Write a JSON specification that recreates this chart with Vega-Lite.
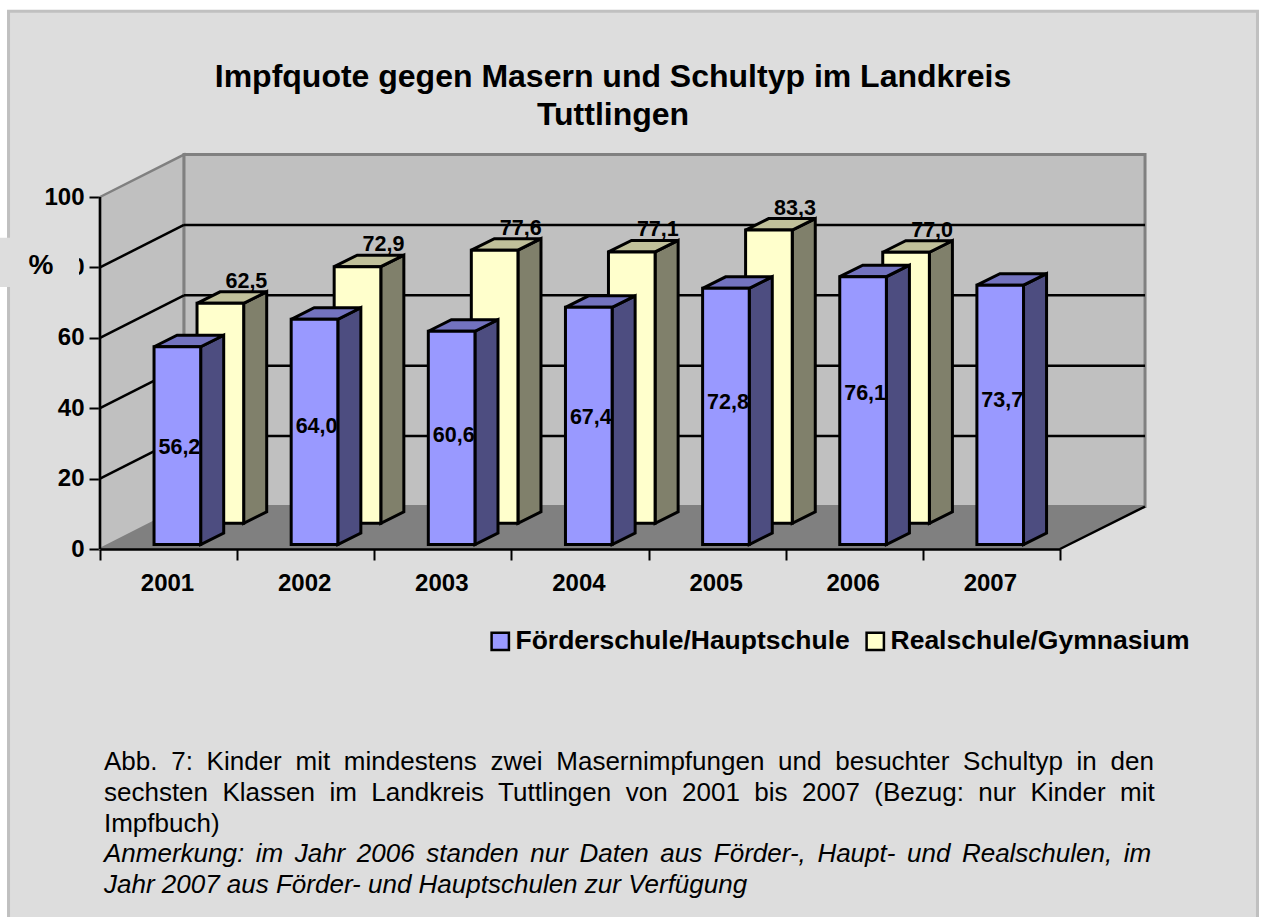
{
"$schema":"https://vega.github.io/schema/vega-lite/v6.json",
"autosize":"none","width":960,"height":352,
"padding":{"left":100,"top":197,"right":203,"bottom":368},
"background":"#dddddd",
"config":{"view":{"stroke":null},"font":"Liberation Sans"},
"title":{"text":["Impfquote gegen Masern und Schultyp im Landkreis","Tuttlingen"],"font":"Liberation Sans","fontSize":32,"fontWeight":"bold","color":"#000","anchor":"middle","dx":33,"offset":-140,"lineHeight":38},
"data":{"name":"bars","values":[
{"year":2001,"series":"Förderschule/Hauptschule","value":56.2},
{"year":2002,"series":"Förderschule/Hauptschule","value":64.0},
{"year":2003,"series":"Förderschule/Hauptschule","value":60.6},
{"year":2004,"series":"Förderschule/Hauptschule","value":67.4},
{"year":2005,"series":"Förderschule/Hauptschule","value":72.8},
{"year":2006,"series":"Förderschule/Hauptschule","value":76.1},
{"year":2007,"series":"Förderschule/Hauptschule","value":73.7},
{"year":2001,"series":"Realschule/Gymnasium","value":62.5},
{"year":2002,"series":"Realschule/Gymnasium","value":72.9},
{"year":2003,"series":"Realschule/Gymnasium","value":77.6},
{"year":2004,"series":"Realschule/Gymnasium","value":77.1},
{"year":2005,"series":"Realschule/Gymnasium","value":83.3},
{"year":2006,"series":"Realschule/Gymnasium","value":77.0}
]},
"transform":[
{"calculate":"datum.series==='Realschule/Gymnasium'?1:0","as":"back"},
{"calculate":"datum.year-0.106+datum.back*0.3135","as":"x0"},
{"calculate":"datum.x0+0.34","as":"x1"},
{"calculate":"1.26+datum.back*6.04","as":"base"},
{"calculate":"datum.base+datum.value","as":"top"},
{"calculate":"replace(format(datum.value,'.1f'),'.',',')","as":"label"}
],
"encoding":{
"x":{"field":"px","type":"quantitative","scale":{"domain":[2000.5,2007.5],"nice":false,"zero":false},
 "axis":{"title":null,"grid":false,"values":[2000.5,2001.5,2002.5,2003.5,2004.5,2005.5,2006.5,2007.5],"labelExpr":"datum.value<2007?format(datum.value+0.5,'d'):''","labelOffset":67,"labelFont":"Liberation Sans","labelFontWeight":"bold","labelFontSize":24,"labelColor":"#000","labelPadding":11,"labelOverlap":false,"labelFlush":false,"tickColor":"#000","tickWidth":2,"tickSize":11,"domainColor":"#000","domainWidth":2.5,"zindex":1}},
"y":{"field":"py","type":"quantitative","stack":null,"scale":{"domain":[0,100],"nice":false,"zero":false},
 "axis":{"title":null,"grid":false,"values":[0,20,40,60,80,100],"labelFont":"Liberation Sans","labelFontWeight":"bold","labelFontSize":24,"labelColor":"#000","labelPadding":5,"labelOverlap":false,"labelFlush":false,"tickColor":"#000","tickWidth":2,"tickSize":11,"domainColor":"#000","domainWidth":2.5,"zindex":0}}
},
"layer":[
{"data":{"values":[{"part":"margin"}]},"transform":[{"calculate":"1999.7635","as":"px"},{"calculate":"2009.01","as":"px2"},{"calculate":"155.7","as":"py"},{"calculate":"-111","as":"py2"}],
 "mark":{"type":"rect","fillOpacity":0,"stroke":"#ffffff","strokeWidth":18},"encoding":{"x2":{"field":"px2"},"y2":{"field":"py2"}}},
{"data":{"values":[{"part":"frame"}]},"transform":[{"calculate":"1999.833","as":"px"},{"calculate":"2008.94","as":"px2"},{"calculate":"152.8","as":"py"},{"calculate":"-111","as":"py2"}],
 "mark":{"type":"rect","fillOpacity":0,"stroke":"#c0c0c0","strokeWidth":3},"encoding":{"x2":{"field":"px2"},"y2":{"field":"py2"}}},
{"data":{"values":[{"depth":0},{"depth":1}]},"transform":[{"calculate":"2000.5+datum.depth*0.6125","as":"px"},{"calculate":"100+datum.depth*12.07","as":"py"},{"calculate":"datum.depth*12.07","as":"py2"}],
 "mark":{"type":"area","fill":"#c0c0c0","stroke":"#808080","strokeWidth":2.5},"encoding":{"y2":{"field":"py2"}}},
{"data":{"values":[{"wall":"back"}]},"transform":[{"calculate":"2001.1125","as":"px"},{"calculate":"2008.12","as":"px2"},{"calculate":"112.07","as":"py"},{"calculate":"12.07","as":"py2"}],
 "mark":{"type":"rect","fill":"#c0c0c0","stroke":"#808080","strokeWidth":3},"encoding":{"x2":{"field":"px2"},"y2":{"field":"py2"}}},
{"data":{"values":[{"k":0},{"k":1},{"k":2},{"k":3}]},"transform":[{"calculate":"[2000.5,2001.1125,2007.5,2008.12][datum.k]","as":"px"},{"calculate":"datum.k==0?0:12.07","as":"py"},{"calculate":"datum.k==3?12.07:0","as":"py2"}],
 "mark":{"type":"area","fill":"#808080"},"encoding":{"y2":{"field":"py2"}}},
{"data":{"values":[{"g":20},{"g":40},{"g":60},{"g":80}]},"transform":[{"calculate":"2000.5","as":"px"},{"calculate":"2001.1125","as":"px2"},{"calculate":"datum.g","as":"py"},{"calculate":"datum.g+12.07","as":"py2"}],
 "mark":{"type":"rule","color":"#000","strokeWidth":2.5},"encoding":{"x2":{"field":"px2"},"y2":{"field":"py2"}}},
{"data":{"values":[{"g":20},{"g":40},{"g":60},{"g":80}]},"transform":[{"calculate":"2001.1125","as":"px"},{"calculate":"2008.12","as":"px2"},{"calculate":"datum.g+12.07","as":"py"}],
 "mark":{"type":"rule","color":"#000","strokeWidth":2.5},"encoding":{"x2":{"field":"px2"}}},
{"data":{"values":[{"edge":"floor"}]},"transform":[{"calculate":"2007.5","as":"px"},{"calculate":"2008.12","as":"px2"},{"calculate":"0","as":"py"},{"calculate":"12.07","as":"py2"}],
 "mark":{"type":"rule","color":"#000","strokeWidth":2.5},"encoding":{"x2":{"field":"px2"},"y2":{"field":"py2"}}},
{"data":{"values":[{"edge":"yaxis"}]},"transform":[{"calculate":"2000.5","as":"px"},{"calculate":"0","as":"py"},{"calculate":"100","as":"py2"}],
 "mark":{"type":"rule","color":"#000","strokeWidth":2.5},"encoding":{"y2":{"field":"py2"}}},

{"transform":[{"filter":"datum.back==1"},{"calculate":"[0,1]","as":"k"},{"flatten":["k"]},{"calculate":"datum.x1+datum.k*0.168","as":"px"},{"calculate":"datum.top+datum.k*3.27","as":"py"},{"calculate":"datum.base+datum.k*3.27","as":"py2"}],
 "mark":{"type":"area","fill":"#80806b","stroke":"#000","strokeWidth":3},"encoding":{"y2":{"field":"py2"},"detail":{"field":"year"}}},
{"transform":[{"filter":"datum.back==1"},{"calculate":"[0,1,2,3]","as":"k"},{"flatten":["k"]},{"calculate":"[datum.x0,datum.x0+0.168,datum.x1,datum.x1+0.168][datum.k]","as":"px"},{"calculate":"datum.k==0?datum.top:datum.top+3.27","as":"py"},{"calculate":"datum.k==3?datum.top+3.27:datum.top","as":"py2"}],
 "mark":{"type":"area","fill":"#c0c09a","stroke":"#000","strokeWidth":3},"encoding":{"y2":{"field":"py2"},"detail":{"field":"year"}}},
{"transform":[{"filter":"datum.back==1"},{"calculate":"datum.x0","as":"px"},{"calculate":"datum.top","as":"py"}],
 "mark":{"type":"rect","stroke":"#000","strokeWidth":3},
 "encoding":{"x2":{"field":"x1"},"y2":{"field":"base"},"fill":{"field":"series","type":"nominal","scale":{"domain":["Förderschule/Hauptschule","Realschule/Gymnasium"],"range":["#9999ff","#ffffcc"]},
  "legend":{"title":null,"orient":"none","legendX":387,"legendY":431,"direction":"horizontal","columns":2,"symbolType":"square","symbolSize":300,"symbolStrokeColor":"#000","symbolStrokeWidth":2.5,"symbolOpacity":1,"labelFont":"Liberation Sans","labelFontWeight":"bold","labelFontSize":26.5,"labelColor":"#000","labelOffset":2,"labelLimit":500,"columnPadding":11,"padding":0}}}},
{"transform":[{"filter":"datum.back==1"},{"calculate":"(datum.x0+datum.x1)/2+0.19","as":"px"},{"calculate":"datum.top+6.1","as":"py"}],
 "mark":{"type":"text","font":"Liberation Sans","fontWeight":"bold","fontSize":21.5,"color":"#000","baseline":"middle"},"encoding":{"text":{"field":"label"}}},

{"transform":[{"filter":"datum.back==0"},{"calculate":"[0,1]","as":"k"},{"flatten":["k"]},{"calculate":"datum.x1+datum.k*0.168","as":"px"},{"calculate":"datum.top+datum.k*3.27","as":"py"},{"calculate":"datum.base+datum.k*3.27","as":"py2"}],
 "mark":{"type":"area","fill":"#4d4d80","stroke":"#000","strokeWidth":3},"encoding":{"y2":{"field":"py2"},"detail":{"field":"year"}}},
{"transform":[{"filter":"datum.back==0"},{"calculate":"[0,1,2,3]","as":"k"},{"flatten":["k"]},{"calculate":"[datum.x0,datum.x0+0.168,datum.x1,datum.x1+0.168][datum.k]","as":"px"},{"calculate":"datum.k==0?datum.top:datum.top+3.27","as":"py"},{"calculate":"datum.k==3?datum.top+3.27:datum.top","as":"py2"}],
 "mark":{"type":"area","fill":"#7373bf","stroke":"#000","strokeWidth":3},"encoding":{"y2":{"field":"py2"},"detail":{"field":"year"}}},
{"transform":[{"filter":"datum.back==0"},{"calculate":"datum.x0","as":"px"},{"calculate":"datum.top","as":"py"}],
 "mark":{"type":"rect","stroke":"#000","strokeWidth":3},
 "encoding":{"x2":{"field":"x1"},"y2":{"field":"base"},"fill":{"field":"series","type":"nominal","scale":{"domain":["Förderschule/Hauptschule","Realschule/Gymnasium"],"range":["#9999ff","#ffffcc"]},
  "legend":{"title":null,"orient":"none","legendX":387,"legendY":431,"direction":"horizontal","columns":2,"symbolType":"square","symbolSize":300,"symbolStrokeColor":"#000","symbolStrokeWidth":2.5,"symbolOpacity":1,"labelFont":"Liberation Sans","labelFontWeight":"bold","labelFontSize":26.5,"labelColor":"#000","labelOffset":2,"labelLimit":500,"columnPadding":11,"padding":0}}}},
{"transform":[{"filter":"datum.back==0"},{"calculate":"(datum.x0+datum.x1)/2+0.015","as":"px"},{"calculate":"0.77*datum.value-14.6","as":"py"}],
 "mark":{"type":"text","font":"Liberation Sans","fontWeight":"bold","fontSize":21.5,"color":"#000","baseline":"middle"},"encoding":{"text":{"field":"label"}}},

{"data":{"values":[{"part":"patch"}]},"transform":[{"calculate":"1999.77","as":"px"},{"calculate":"2000.347","as":"px2"},{"calculate":"88.4","as":"py"},{"calculate":"74.4","as":"py2"}],
 "mark":{"type":"rect","fill":"#dddddd"},"encoding":{"x2":{"field":"px2"},"y2":{"field":"py2"}}},
{"data":{"values":[{"t":"%"}]},"transform":[{"calculate":"2000.07","as":"px"},{"calculate":"80.4","as":"py"}],
 "mark":{"type":"text","font":"Liberation Sans","fontWeight":"bold","fontSize":28,"color":"#000","baseline":"middle"},"encoding":{"text":{"field":"t"}}},
{"data":{"values":[
 {"i":0,"line":"Abb.\u2005 7:\u2005 Kinder\u2005 mit\u2005 mindestens\u2005 zwei\u2005 Masernimpfungen\u2005 und\u2005 besuchter\u2005 Schultyp\u2005 in\u2005 den"},
 {"i":1,"line":"sechsten\u00a0 Klassen\u00a0 im\u00a0 Landkreis\u00a0 Tuttlingen\u00a0 von\u00a0 2001\u00a0 bis\u00a0 2007\u00a0 (Bezug:\u00a0 nur\u00a0 Kinder\u00a0 mit"},
 {"i":2,"line":"Impfbuch)"}]},
 "transform":[{"calculate":"2000.529","as":"px"},{"calculate":"-62.8-datum.i*8.75","as":"py"}],
 "mark":{"type":"text","font":"Liberation Sans","fontSize":26,"color":"#000","align":"left","baseline":"alphabetic"},"encoding":{"text":{"field":"line"}}},
{"data":{"values":[
 {"i":3,"line":"Anmerkung:\u2006 im\u2006 Jahr\u2006 2006\u2006 standen\u2006 nur\u2006 Daten\u2006 aus\u2006 Förder-,\u2006 Haupt-\u2006 und\u2006 Realschulen,\u2006 im"},
 {"i":4,"line":"Jahr 2007 aus Förder- und Hauptschulen zur Verfügung"}]},
 "transform":[{"calculate":"2000.529","as":"px"},{"calculate":"-62.8-datum.i*8.75","as":"py"}],
 "mark":{"type":"text","font":"Liberation Sans","fontStyle":"italic","fontSize":26,"color":"#000","align":"left","baseline":"alphabetic"},"encoding":{"text":{"field":"line"}}}
]
}
